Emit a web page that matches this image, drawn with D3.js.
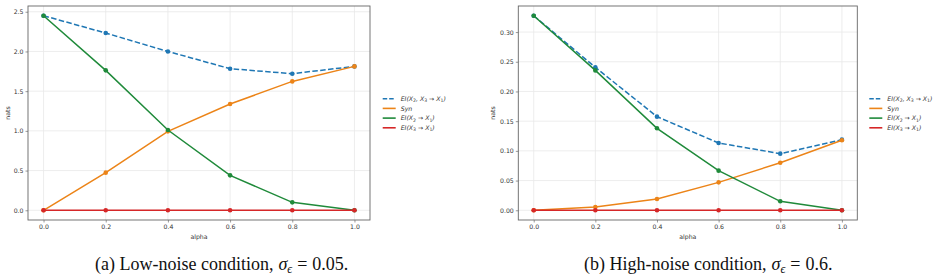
<!DOCTYPE html>
<html>
<head>
<meta charset="utf-8">
<script src="https://cdn.jsdelivr.net/npm/d3@7"></script>
<style>
  body { margin: 0; background: #fff; }
  svg { display: block; }
</style>
</head>
<body>
<svg id="chart" width="937" height="280"></svg>
<script>
// alpha values on the x axis
var alphas = [0.0, 0.2, 0.4, 0.6, 0.8, 1.0];

// (a) low noise
var lowTotal = [2.45, 2.232, 2.0, 1.783, 1.72, 1.812];
var lowSyn   = [0.0, 0.474, 0.994, 1.338, 1.623, 1.812];
var lowX2    = [2.45, 1.762, 1.011, 0.44, 0.10, 0.0];
var lowX3    = [0, 0, 0, 0, 0, 0];
var lowTicks = [0.0, 0.5, 1.0, 1.5, 2.0, 2.5];

// (b) high noise
var highTotal = [0.3275, 0.2406, 0.1576, 0.1133, 0.0953, 0.1189];
var highSyn   = [0.0, 0.0056, 0.019, 0.047, 0.080, 0.1178];
var highX2    = [0.3275, 0.2355, 0.138, 0.0667, 0.0151, 0.0];
var highX3    = [0, 0, 0, 0, 0, 0];
var highTicks = [0.00, 0.05, 0.10, 0.15, 0.20, 0.25, 0.30];

var xTicks = [0.0, 0.2, 0.4, 0.6, 0.8, 1.0];

var colors = {total: "#1f77b4", syn: "#ec8418", x2: "#1f8a3a", x3: "#d62728"};

// legend labels: [text, isSubscript]
var legendLabels = [
    [["EI(X", 0], ["2", 1], [", X", 0], ["3", 1], [" \u2192 X", 0], ["1", 1], [")", 0]],
    [["Syn", 0]],
    [["EI(X", 0], ["2", 1], [" \u2192 X", 0], ["1", 1], [")", 0]],
    [["EI(X", 0], ["3", 1], [" \u2192 X", 0], ["1", 1], [")", 0]]
];

var svg = d3.select("#chart");

function drawPanel(p) {
    var g = svg.append("g");

    var ymax = d3.max(p.total.concat(p.x2));
    var pad = ymax * 0.05;
    var x = d3.scaleLinear().domain([-0.05, 1.05]).range([p.left, p.right]);
    var y = d3.scaleLinear().domain([-pad, ymax + pad]).range([p.bottom, p.top]);

    // grid
    g.selectAll(".gx").data(xTicks).enter().append("line")
        .attr("x1", function(d) { return x(d); }).attr("x2", function(d) { return x(d); })
        .attr("y1", p.top).attr("y2", p.bottom)
        .attr("stroke", "#e8e8e8").attr("stroke-width", 0.8);
    g.selectAll(".gy").data(p.ticks).enter().append("line")
        .attr("y1", function(d) { return y(d); }).attr("y2", function(d) { return y(d); })
        .attr("x1", p.left).attr("x2", p.right)
        .attr("stroke", "#e8e8e8").attr("stroke-width", 0.8);

    // axes
    var xAxis = g.append("g")
        .attr("transform", "translate(0," + p.bottom + ")")
        .call(d3.axisBottom(x).tickValues(xTicks).tickFormat(d3.format(".1f")).tickSizeOuter(0).tickSize(2.5).tickPadding(2));
    var yAxis = g.append("g")
        .attr("transform", "translate(" + p.left + ",0)")
        .call(d3.axisLeft(y).tickValues(p.ticks).tickFormat(d3.format(p.fmt)).tickSizeOuter(0).tickSize(2.5).tickPadding(2));
    [xAxis, yAxis].forEach(function(a) {
        a.select(".domain").remove();
        a.selectAll("line").attr("stroke", "#555").attr("stroke-width", 0.6);
        a.selectAll("text").attr("fill", "#333")
            .style("font-family", "DejaVu Sans").style("font-size", "6.2px");
    });

    // frame
    g.append("rect")
        .attr("x", p.left).attr("y", p.top)
        .attr("width", p.right - p.left).attr("height", p.bottom - p.top)
        .attr("fill", "none").attr("stroke", "#666").attr("stroke-width", 0.9);

    // axis labels
    g.append("text").text("alpha")
        .attr("x", (p.left + p.right) / 2).attr("y", 238.5)
        .attr("text-anchor", "middle").style("fill", "#333")
        .style("font-family", "DejaVu Sans").style("font-size", "6.2px");
    g.append("text").text("nats")
        .attr("transform", "translate(" + p.ylabX + "," + ((p.top + p.bottom) / 2) + ") rotate(-90)")
        .attr("text-anchor", "middle").style("fill", "#333")
        .style("font-family", "DejaVu Sans").style("font-size", "6.2px");

    var series = [
        {vals: p.total, color: colors.total, dash: "5.5,2.4"},
        {vals: p.syn, color: colors.syn, dash: null},
        {vals: p.x2, color: colors.x2, dash: null},
        {vals: p.x3, color: colors.x3, dash: null}
    ];
    var line = d3.line()
        .x(function(d, i) { return x(alphas[i]); })
        .y(function(d) { return y(d); });

    series.forEach(function(s) {
        g.append("path").datum(s.vals)
            .attr("d", line)
            .attr("fill", "none")
            .attr("stroke", s.color)
            .attr("stroke-width", 1.5)
            .attr("stroke-dasharray", s.dash);
        g.selectAll(null).data(s.vals).enter().append("circle")
            .attr("cx", function(d, i) { return x(alphas[i]); })
            .attr("cy", function(d) { return y(d); })
            .attr("r", 2.3)
            .attr("fill", s.color);
    });

    // legend
    var lg = g.append("g").attr("transform", "translate(" + p.legX + ",98.7)");
    series.forEach(function(s, i) {
        var yy = i * 9.7;
        lg.append("line")
            .attr("x1", 0).attr("x2", 13).attr("y1", yy).attr("y2", yy)
            .attr("stroke", s.color).attr("stroke-width", 1.6)
            .attr("stroke-dasharray", s.dash ? "4.5,2" : null);
        var t = lg.append("text")
            .attr("x", 18).attr("y", yy + 2.2)
            .attr("fill", "#333")
            .style("font-family", "DejaVu Sans").style("font-size", "6.2px")
            .style("font-style", "italic");
        var wasSub = false;
        legendLabels[i].forEach(function(part) {
            var ts = t.append("tspan").text(part[0]);
            if (part[1]) {
                ts.attr("dy", 1.3).style("font-size", "4.6px").style("font-style", "normal");
                wasSub = true;
            } else if (wasSub) {
                ts.attr("dy", -1.3);
                wasSub = false;
            }
        });
    });

    // caption
    var cap = svg.append("text")
        .attr("x", p.capX).attr("y", 270)
        .attr("fill", "#111")
        .style("font-family", "'Liberation Serif', 'Times New Roman', serif").style("font-size", "18px");
    cap.append("tspan").text(p.caption);
    cap.append("tspan").text("\u03c3").attr("dx", 5).style("font-style", "italic");
    cap.append("tspan").text("\u03f5").attr("dy", 3).style("font-size", "12px").style("font-style", "italic");
    cap.append("tspan").text("=").attr("dy", -3).attr("dx", 5);
    cap.append("tspan").text(p.capVal).attr("dx", 5);
}

drawPanel({
    total: lowTotal, syn: lowSyn, x2: lowX2, x3: lowX3, ticks: lowTicks, fmt: ".1f",
    left: 28, right: 370, top: 6, bottom: 220, ylabX: 10, legX: 382.7,
    capX: 95, caption: "(a) Low-noise condition,", capVal: "0.05."
});
drawPanel({
    total: highTotal, syn: highSyn, x2: highX2, x3: highX3, ticks: highTicks, fmt: ".2f",
    left: 518.3, right: 857.3, top: 6, bottom: 220, ylabX: 495, legX: 869.3,
    capX: 584, caption: "(b) High-noise condition,", capVal: "0.6."
});
</script>
</body>
</html>
